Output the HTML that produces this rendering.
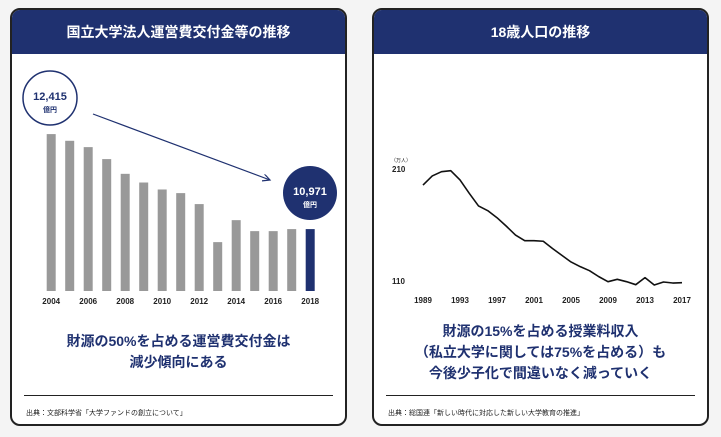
<!DOCTYPE html>
<html><head><meta charset="utf-8"><style>
html,body{margin:0;padding:0;background:#f4f4f4;width:721px;height:437px;overflow:hidden;font-family:"Liberation Sans","Noto Sans CJK JP",sans-serif}
.card{position:absolute;top:8px;width:337px;height:418px;background:#fff;border:2px solid #222;border-radius:10px;overflow:hidden;box-sizing:border-box}
.hdr{height:44px;background:#1f3170;color:#fff;font-weight:bold;font-size:14px;text-align:center;line-height:44px}
.msg{position:absolute;left:0;right:0;text-align:center;color:#1f3170;font-weight:bold;font-size:14px;line-height:21px}
.rule{position:absolute;left:12px;right:12px;top:385px;border-top:1px solid #222}
.src{position:absolute;left:14px;top:398px;font-size:7px;color:#222}
svg{position:absolute;left:0;top:0}
</style></head><body>
<div class="card" style="left:10px">
<div class="hdr">国立大学法人運営費交付金等の推移</div>
<svg id="bar" width="337" height="300"></svg>
<div class="msg" style="top:321px">財源の50%を占める運営費交付金は<br>減少傾向にある</div>
<div class="rule"></div>
<div class="src">出典：文部科学省「大学ファンドの創立について」</div>
</div>
<div class="card" style="left:372px">
<div class="hdr">18歳人口の推移</div>
<svg id="line" width="337" height="300"></svg>
<div class="msg" style="top:311px">財源の15%を占める授業料収入<br>（私立大学に関しては75%を占める）も<br>今後少子化で間違いなく減っていく</div>
<div class="rule"></div>
<div class="src">出典：総国連「新しい時代に対応した新しい大学教育の推進」</div>
</div>
<script>
const barYears=[2004,2005,2006,2007,2008,2009,2010,2011,2012,2013,2014,2015,2016,2017,2018];
const barValues=[12415,12313,12217,12035,11811,11679,11573,11518,11351,10773,11107,10940,10940,10971,10971];
const barTickLabels=["2004","2006","2008","2010","2012","2014","2016","2018"];
const lineYears=[1989,1990,1991,1992,1993,1994,1995,1996,1997,1998,1999,2000,2001,2002,2003,2004,2005,2006,2007,2008,2009,2010,2011,2012,2013,2014,2015,2016,2017];
const lineValues=[195.7,203.8,207.6,208.5,200.2,188.3,177,172.8,166.5,159,151,146,146,145.5,139,133,127,122.8,119.2,113.9,109.4,111.5,109.4,106.7,113,106.4,109.1,108.2,108.5];
const lineXTicks=["1989","1993","1997","2001","2005","2009","2013","2017"];
const lineYTicks=[210,110];
const NS="http://www.w3.org/2000/svg";
function mk(svg,tag,attrs,txt){const e=document.createElementNS(NS,tag);for(const k in attrs)e.setAttribute(k,attrs[k]);if(txt!==undefined)e.textContent=txt;svg.appendChild(e);return e;}
// bar chart (card offset: x-12, y-10)
const bs=document.getElementById('bar');
const bx=i=>34.7+i*18.5, by=v=>281-(v-10030)/15.2;
barValues.forEach((v,i)=>{
 const r=mk(bs,'rect',{x:bx(i),y:by(v),width:9,height:281-by(v),fill:i===barValues.length-1?'#1f3170':'#999'});
 
 
});
barTickLabels.forEach(t=>{
 const i=barYears.indexOf(+t);
 const e=mk(bs,'text',{x:bx(i)+4.5,y:294,'text-anchor':'middle','font-size':8,'font-weight':'bold',fill:'#222'},t);
 
 
});
mk(bs,'defs',{}).innerHTML='<marker id="ah" markerWidth="8" markerHeight="8" refX="6" refY="3" orient="auto"><path d="M0,0 L6,3 L0,6" fill="none" stroke="#1f3170" stroke-width="1"/></marker>';
const ar=mk(bs,'line',{x1:81,y1:104,x2:258,y2:170,stroke:'#1f3170','stroke-width':1.2,'marker-end':'url(#ah)'});


const c1=mk(bs,'circle',{cx:38,cy:88,r:27,fill:'#fff',stroke:'#1f3170','stroke-width':1.5});


mk(bs,'text',{x:38,y:90,'text-anchor':'middle','font-size':11,'font-weight':'bold',fill:'#1f3170'},barValues[0].toLocaleString('en-US'));
mk(bs,'text',{x:38,y:102,'text-anchor':'middle','font-size':7,'font-weight':'bold',fill:'#1f3170'},'億円');
const c2=mk(bs,'circle',{cx:298,cy:183,r:27,fill:'#1f3170'});


mk(bs,'text',{x:298,y:185,'text-anchor':'middle','font-size':11,'font-weight':'bold',fill:'#fff'},barValues[barValues.length-1].toLocaleString('en-US'));
mk(bs,'text',{x:298,y:197,'text-anchor':'middle','font-size':7,'font-weight':'bold',fill:'#fff'},'億円');
// line chart (card offset: x-374, y-10)
const ls=document.getElementById('line');
const lx=y=>49+(y-1989)*9.25, ly=v=>159-(v-210)*1.12;
const pts=lineYears.map((y,i)=>lx(y)+','+ly(lineValues[i])).join(' ');
const pl=mk(ls,'polyline',{points:pts,fill:'none',stroke:'#111','stroke-width':1.6,'stroke-linejoin':'round'});


lineXTicks.forEach(t=>{
 const e=mk(ls,'text',{x:lx(+t),y:293,'text-anchor':'middle','font-size':8,'font-weight':'bold',fill:'#222'},t);
 
 
});
lineYTicks.forEach(t=>{
 const e=mk(ls,'text',{x:18,y:ly(t)+3,'font-size':8,'font-weight':'bold',fill:'#222'},String(t));
 
 
});
const u=mk(ls,'text',{x:17,y:152,'font-size':5,fill:'#222'},'（万人）');


</script>
</body></html>
